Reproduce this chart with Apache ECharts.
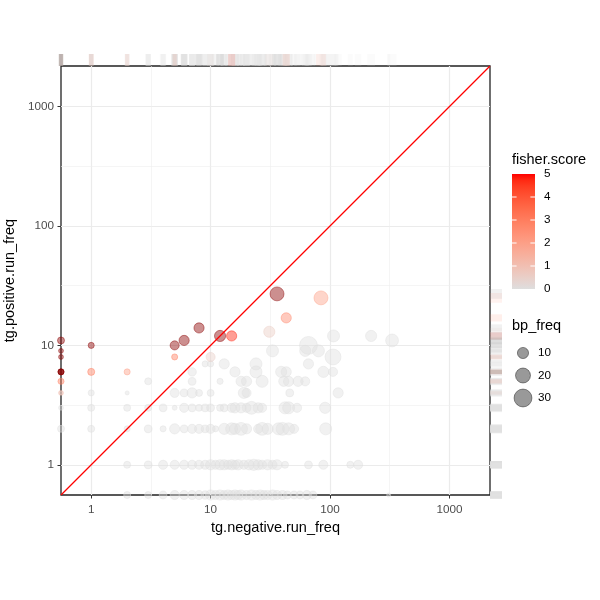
<!DOCTYPE html>
<html><head><meta charset="utf-8">
<script src="https://cdn.jsdelivr.net/npm/echarts@6/dist/echarts.min.js"></script>
<style>html,body{margin:0;padding:0;background:#fff}#c{width:600px;height:600px}</style>
</head><body><div id="c"></div>
<script>
// ---- data (0 = value squished to the panel edge, like ggplot's -Inf on log scale) ----
const negFreq = [
  2,3,4,5,6,7,8,9,10,11,12,13,14,15,16,17,18,20,22,24,26,28,30,33,36,40,44,50,56,64,72,310,
  2,3,4,5,6,7,8,9,10,11,12,13,14,15,16,17,19,21,23,25,27,30,33,36,42,66,88,148,172,
  0,1,2,3,4,5,6,7,8,9,10,11,13,15,16,18,20,25,27,30,37,40,45,50,92,
  0,1,2,3,4,5,6,7,8,9,10,12,13,15,16,18,20,22,25,27,42,45,53,91,
  0,1,2,5,6,7,8,10,19,20,46,117,
  3,7,12,18,20,27,41,45,54,62,
  7,16,24,39,43,88,106,
  9,10,13,24,66,
  106, 33,62,80, 66, 331, 107,221,
  0,0,0,0,0,0,0,0,1,1,2,5,6,8,5,36,84,43,12,15,31,10
];
const posFreq = [
  0,0,0,0,0,0,0,0,0,0,0,0,0,0,0,0,0,0,0,0,0,0,0,0,0,0,0,0,0,0,0,0,
  1,1,1,1,1,1,1,1,1,1,1,1,1,1,1,1,1,1,1,1,1,1,1,1,1,1,1,1,1,
  2,2,2,2,2,2,2,2,2,2,2,2,2,2,2,2,2,2,2,2,2,2,2,2,2,
  3,3,3,3,3,3,3,3,3,3,3,3,3,3,3,3,3,3,3,3,3,3,3,3,
  4,4,4,4,4,4,4,4,4,4,4,4,
  5,5,5,5,5,5,5,5,5,5,
  6,6,6,6,6,6,6,
  7,7,7,7,7,
  8, 9,9,9, 10, 11, 12,12,
  11,9,8,6,6,6,5,4,10,6,6,10,11,14,8,27,25,17,12,12,13,8
];
const bpFreq = [
  3,3,4,6,6,6,6,5,8,6,8,6,8,6,8,6,8,6,8,6,8,6,6,8,6,6,4,4,4,6,4,0.5,
  3,4,6,6,6,6,6,6,8,6,8,8,6,8,6,8,6,8,10,8,6,8,6,8,3,4,6,3,6,
  3,3,2,4,2,8,4,6,6,4,6,2,10,12,10,14,8,6,14,10,12,14,12,6,12,
  1,3,3,3,4,1,6,4,3,4,4,3,4,6,8,8,6,14,8,6,12,12,6,10,
  0.3,2,0.5,6,4,8,3,3,10,6,4,8,
  3,4,2,8,8,12,8,8,8,6,
  5,8,12,10,8,10,6,
  2,2,8,12,8,
  23, 12,10,12, 30, 14, 12,10,
  3,1,1,2,2,1.5,2,1,2,3,2,6,8,8,2,17,17,8,10,8,10,6
];
const fisherScore = [
  0,0,0,0,0,0,0,0,0,0,0,0,0,0,0,0,0,0,0,0,0,0,0,0,0,0,0,0,0,0,0,0,
  0,0,0,0,0,0,0,0,0,0,0,0,0,0,0,0,0,0,0,0,0,0,0,0,0,0,0,0,0,
  0,0,0,0,0,0,0,0,0,0,0,0,0,0,0,0,0,0,0,0,0,0,0,0,0,
  0,0,0,0,0,0,0,0,0,0,0,0,0,0,0,0,0,0,0,0,0,0,0,0,
  0,0,0,0,0,0,0,0,0,0,0,0,
  0,0,0,0,0,0,0,0,0,0,
  0,0,0,0,0,0,0,
  0,0,0,0,0,
  0, 0,0,0, 0, 0, 0,0,
  6,6,6,6,6,6,3,1.2,6,3,2,6,6,6,3,6,2,2.7,6,4.8,0.6,0.5
];
const axisTicks = [1, 10, 100, 1000];
const minorTicks = [3.1623, 31.623, 316.23];
const fisherTicks = [0, 1, 2, 3, 4, 5];
const bpTicks = [10, 20, 30];

// ---- styling helpers ----
const FONT = 'Liberation Sans, Arial, Helvetica, sans-serif';
const LOG_MIN = -0.253, LOG_MAX = 3.34;
const AX_MIN = Math.pow(10, LOG_MIN), AX_MAX = Math.pow(10, LOG_MAX);
const squish = v => (v <= 0 ? AX_MIN : v);
const pointSize = bp => 2 + 2.9 * Math.sqrt(bp);

function s2l(c){c/=255;return c<=0.04045?c/12.92:Math.pow((c+0.055)/1.055,2.4);}
function l2s(c){c=c<=0.0031308?12.92*c:1.055*Math.pow(c,1/2.4)-0.055;return Math.round(Math.max(0,Math.min(1,c))*255);}
function rgb2lab(rgb){const r=s2l(rgb[0]),g=s2l(rgb[1]),b=s2l(rgb[2]);
  const X=(0.4124*r+0.3576*g+0.1805*b)/0.95047,Y=0.2126*r+0.7152*g+0.0722*b,Z=(0.0193*r+0.1192*g+0.9505*b)/1.08883;
  const f=t=>t>0.008856?Math.cbrt(t):7.787*t+16/116;
  return [116*f(Y)-16,500*(f(X)-f(Y)),200*(f(Y)-f(Z))];}
function lab2rgb(lab){const fy=(lab[0]+16)/116,fx=fy+lab[1]/500,fz=fy-lab[2]/200;
  const inv=t=>t*t*t>0.008856?t*t*t:(t-16/116)/7.787;
  const X=inv(fx)*0.95047,Y=inv(fy),Z=inv(fz)*1.08883;
  return [l2s(3.2406*X-1.5372*Y-0.4986*Z),l2s(-0.9689*X+1.8758*Y+0.0415*Z),l2s(0.0557*X-0.2040*Y+1.0570*Z)];}
const LOW = rgb2lab([222,222,222]), HIGH = rgb2lab([255,0,0]), NA_RGB = [139,0,0];
function scoreRGB(s){ if (s > 5) return NA_RGB; const t = Math.max(0, s) / 5;
  return lab2rgb([0,1,2].map(k => LOW[k] + (HIGH[k]-LOW[k]) * t)); }
function rugRGB(s){ return s > 5 ? [150,150,150] : scoreRGB(s); }
const rgba = (c, a) => `rgba(${c[0]},${c[1]},${c[2]},${a})`;

// ---- build series data ----
const order = negFreq.map((_, i) => i).sort((a, b) => fisherScore[a] - fisherScore[b]);
const points = order.map(i => {
  const c = rgba(scoreRGB(fisherScore[i]), 0.55);
  return { value: [squish(negFreq[i]), squish(posFreq[i]), bpFreq[i], fisherScore[i]],
           symbolSize: pointSize(bpFreq[i]),
           itemStyle: { color: c, borderColor: c, borderWidth: 1 } };
});
const rugTop = order.map(i => ({ value: [squish(negFreq[i]), 0.5],
  symbolSize: [0.7 * pointSize(bpFreq[i]), 12],
  itemStyle: { color: rgba(rugRGB(fisherScore[i]), 0.17) } }));
const rugRight = order.map(i => ({ value: [0.5, squish(posFreq[i])],
  symbolSize: [12, 0.7 * pointSize(bpFreq[i])],
  itemStyle: { color: rgba(rugRGB(fisherScore[i]), 0.17) } }));

const gridLines = [];
axisTicks.forEach(v => { gridLines.push({ xAxis: v, lineStyle: { color: '#EBEBEB', width: 1.2, type: 'solid' } });
                         gridLines.push({ yAxis: v, lineStyle: { color: '#EBEBEB', width: 1.2, type: 'solid' } }); });
minorTicks.forEach(v => { gridLines.push({ xAxis: v, lineStyle: { color: '#EFEFEF', width: 0.6, type: 'solid' } });
                          gridLines.push({ yAxis: v, lineStyle: { color: '#EFEFEF', width: 0.6, type: 'solid' } }); });

// ---- legend graphics ----
const BAR_X = 512, BAR_TOP = 174, BAR_W = 23, BAR_H = 115;
const stops = [];
for (let k = 0; k <= 20; k++) { const s = 5 - k * 0.25; stops.push({ offset: k / 20, color: rgba(scoreRGB(s), 1) }); }
const graphics = [
  { type: 'text', left: BAR_X, top: 152, style: { text: 'fisher.score', font: `14.5px ${FONT}`, fill: '#000' } },
  { type: 'rect', shape: { x: BAR_X, y: BAR_TOP, width: BAR_W, height: BAR_H },
    style: { fill: new echarts.graphic.LinearGradient(0, 0, 0, 1, stops) } },
  { type: 'text', left: BAR_X, top: 318, style: { text: 'bp_freq', font: `14.5px ${FONT}`, fill: '#000' } }
];
fisherTicks.forEach(v => {
  const y = BAR_TOP + BAR_H * (1 - v / 5);
  if (v > 0 && v < 5) {
    graphics.push({ type: 'line', shape: { x1: BAR_X, y1: y, x2: BAR_X + 4.6, y2: y }, style: { stroke: '#fff', lineWidth: 1 } });
    graphics.push({ type: 'line', shape: { x1: BAR_X + BAR_W - 4.6, y1: y, x2: BAR_X + BAR_W, y2: y }, style: { stroke: '#fff', lineWidth: 1 } });
  }
  graphics.push({ type: 'text', x: 544, y: y, style: { text: String(v), font: `11.7px ${FONT}`, fill: '#000', textVerticalAlign: 'middle' } });
});
bpTicks.forEach((v, k) => {
  const y = 353 + k * 22.5;
  graphics.push({ type: 'circle', shape: { cx: 523, cy: y, r: pointSize(v) / 2 },
    style: { fill: 'rgba(0,0,0,0.4)', stroke: 'rgba(0,0,0,0.4)', lineWidth: 1 } });
  graphics.push({ type: 'text', x: 538, y: y, style: { text: String(v), font: `11.7px ${FONT}`, fill: '#000', textVerticalAlign: 'middle' } });
});

const labelFmt = v => String(Math.round(v));
const gridBase = { containLabel: false, outerBoundsMode: 'none' };
const option = {
  animation: false,
  backgroundColor: '#fff',
  textStyle: { fontFamily: FONT },
  grid: [
    Object.assign({ left: 61, top: 66, width: 429, height: 429, show: true, borderColor: '#222', borderWidth: 1.3, backgroundColor: '#fff', z: 0 }, gridBase),
    Object.assign({ left: 61, top: 54, width: 429, height: 12 }, gridBase),
    Object.assign({ left: 490, top: 66, width: 12, height: 429 }, gridBase)
  ],
  xAxis: [
    { gridIndex: 0, type: 'log', logBase: 10, min: AX_MIN, max: AX_MAX,
      name: 'tg.negative.run_freq', nameLocation: 'middle', nameGap: 25,
      nameTextStyle: { fontSize: 14.5, color: '#000', fontFamily: FONT },
      axisLine: { show: false },
      axisTick: { show: true, customValues: axisTicks, length: 3.5, lineStyle: { color: '#333', width: 1 } },
      axisLabel: { customValues: axisTicks, color: '#4D4D4D', fontSize: 11.7, margin: 9, fontFamily: FONT, formatter: labelFmt },
      splitLine: { show: false } },
    { gridIndex: 1, type: 'log', logBase: 10, min: AX_MIN, max: AX_MAX, show: false },
    { gridIndex: 2, type: 'value', min: 0, max: 1, show: false }
  ],
  yAxis: [
    { gridIndex: 0, type: 'log', logBase: 10, min: AX_MIN, max: AX_MAX,
      name: 'tg.positive.run_freq', nameLocation: 'middle', nameGap: 36, nameRotate: 90,
      nameTextStyle: { fontSize: 14.5, color: '#000', fontFamily: FONT },
      axisLine: { show: false },
      axisTick: { show: true, customValues: axisTicks, length: 3.5, lineStyle: { color: '#333', width: 1 } },
      axisLabel: { customValues: axisTicks, color: '#4D4D4D', fontSize: 11.7, margin: 7, fontFamily: FONT, formatter: labelFmt },
      splitLine: { show: false } },
    { gridIndex: 1, type: 'value', min: 0, max: 1, show: false },
    { gridIndex: 2, type: 'log', logBase: 10, min: AX_MIN, max: AX_MAX, show: false }
  ],
  series: [
    { type: 'scatter', xAxisIndex: 0, yAxisIndex: 0, data: points, z: 3, silent: true },
    { type: 'line', xAxisIndex: 0, yAxisIndex: 0, data: [[AX_MIN, AX_MIN], [AX_MAX, AX_MAX]],
      symbol: 'none', lineStyle: { color: '#FF0000', width: 1.2 }, z: 5, silent: true,
      markLine: { silent: true, symbol: ['none', 'none'], z: 1, label: { show: false },
                  emphasis: { disabled: true }, data: gridLines } },
    { type: 'scatter', xAxisIndex: 1, yAxisIndex: 1, symbol: 'rect', data: rugTop, silent: true },
    { type: 'scatter', xAxisIndex: 2, yAxisIndex: 2, symbol: 'rect', data: rugRight, silent: true }
  ],
  graphic: graphics
};
const chart = echarts.init(document.getElementById('c'));
chart.setOption(option);
</script></body></html>
